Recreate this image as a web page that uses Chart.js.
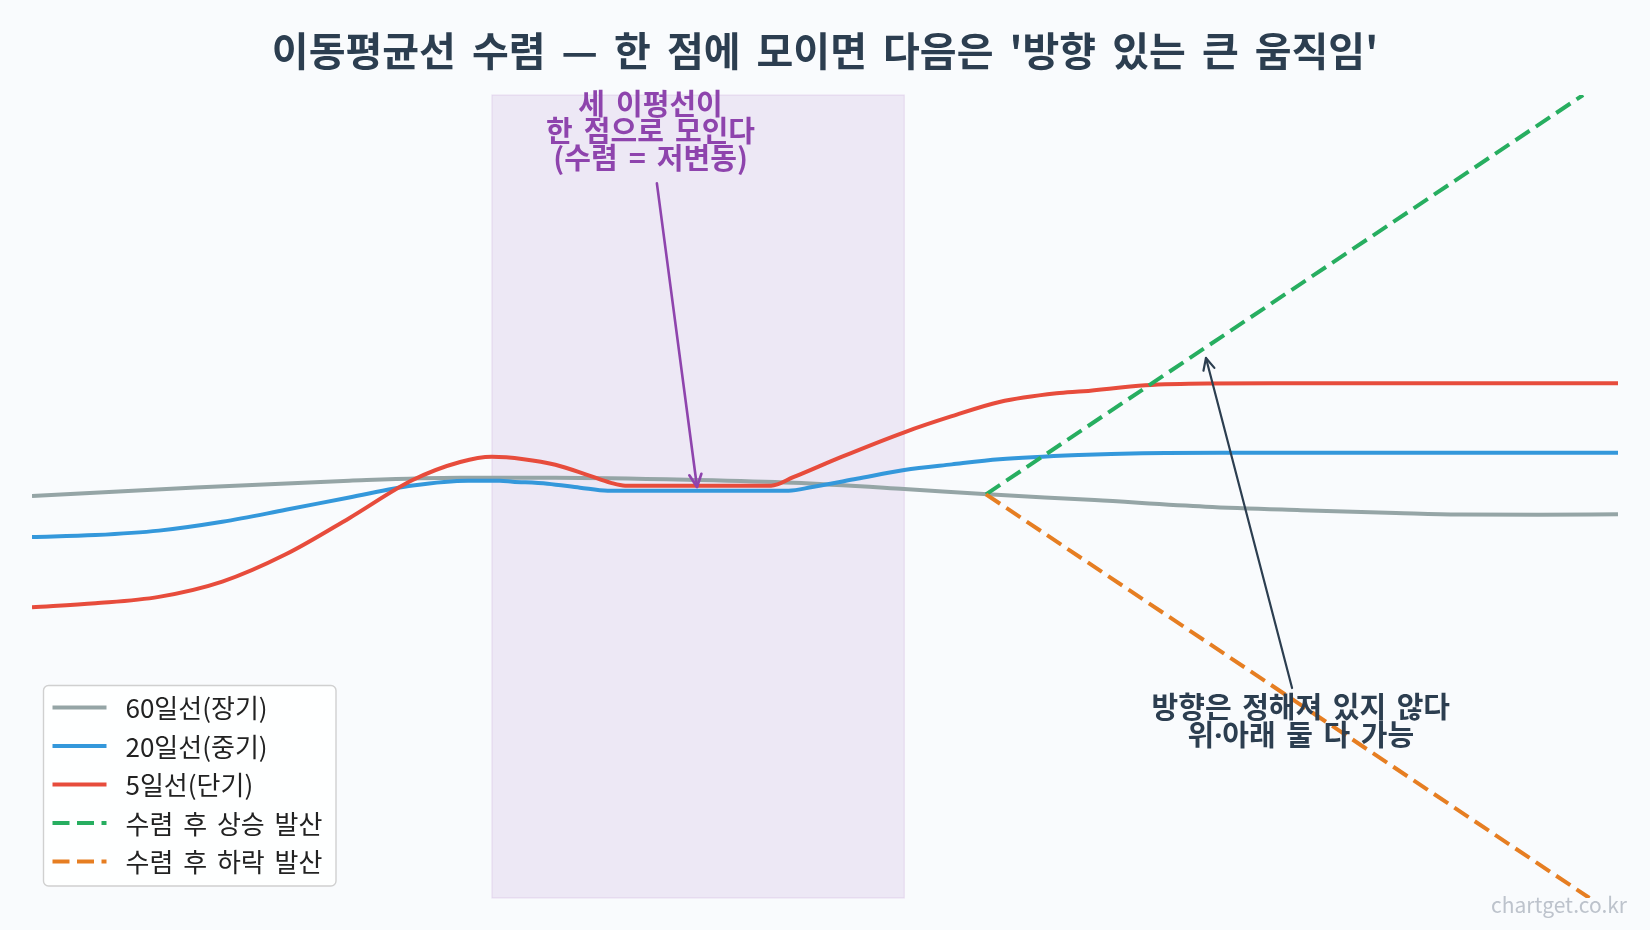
<!DOCTYPE html>
<html>
<head>
<meta charset="utf-8">
<script src="https://cdn.jsdelivr.net/npm/chart.js@4.4.1/dist/chart.umd.min.js"></script>
<style>
  html, body { margin: 0; padding: 0; background: #f9fbfd; }
  #wrap { width: 1650px; height: 930px; }
</style>
</head>
<body>
<div id="wrap"><canvas id="c" width="1650" height="930"></canvas></div>
<script>
// ---------------- data ----------------
const chartTitle = "이동평균선 수렴 — 한 점에 모이면 다음은 '방향 있는 큰 움직임'";
const seriesLabels = ["60일선(장기)", "20일선(중기)", "5일선(단기)", "수렴 후 상승 발산", "수렴 후 하락 발산"];
const seriesColors = ["#95a5a6", "#3498db", "#e74c3c", "#27ae60", "#e67e22"];

const ma60X = [0, 10, 20, 27, 33, 42, 48, 55, 60, 67, 74, 80, 86, 90, 95, 100];
const ma60Y = [50.06, 51.1, 51.97, 52.33, 52.33, 52.05, 51.7, 50.93, 50.3, 49.55, 48.73, 48.3, 47.95, 47.75, 47.72, 47.8];

const ma20X = [0, 4, 8, 12, 16, 20, 24, 27.5, 29.5, 30.3, 32.5, 34.55, 36.3, 47.7, 49.2, 52, 55, 58, 61, 66, 70, 75, 80, 100];
const ma20Y = [44.96, 45.2, 45.75, 46.85, 48.34, 49.88, 51.37, 51.97, 51.95, 51.85, 51.6, 51.1, 50.72, 50.72, 51.18, 52.2, 53.3, 54.0, 54.63, 55.17, 55.4, 55.45, 55.45, 55.45];

const ma5X = [0, 4, 8, 12, 16, 20, 24, 27, 29, 31, 33, 35, 36.5, 37.4, 46.6, 48, 51, 55, 58, 61, 64.6, 66.3, 70.2, 74.1, 80, 100];
const ma5Y = [36.2, 36.7, 37.5, 39.4, 42.8, 47.3, 52.05, 54.3, 54.95, 54.65, 53.95, 52.7, 51.7, 51.35, 51.35, 52.4, 54.9, 58.0, 60.0, 61.77, 62.85, 63.1, 63.85, 64.07, 64.1, 64.1];

const upX = [60.15, 97.8];
const upY = [50.27, 100];
const downX = [60.15, 98.2];
const downY = [50.27, 0];

const convergeZone = [29, 55];          // shaded convergence span (x units)
const xRange = [0, 100];
const yRange = [0, 100];

const noteConverge = ["세 이평선이", "한 점으로 모인다", "(수렴 = 저변동)"];
const noteConvergeAt = { x: 39, y: [98.9, 95.5, 92.1] };
const noteConvergeArrow = { from: [39.4, 89.0], to: [41.93, 51.18] };

const noteDirection = ["방향은 정해져 있지 않다", "위·아래 둘 다 가능"];
const noteDirectionAt = { x: 80, y: [23.5, 20.0] };
const noteDirectionArrow = { from: [79.45, 26.15], to: [74.02, 67.25] };

const watermark = "chartget.co.kr";
// -----------------------------------------------------------------

const KR = "'Noto Sans CJK KR', 'Noto Sans', sans-serif";
const KR2 = "'Noto Sans', 'Noto Sans CJK KR', sans-serif";

function pts(xs, ys) { return xs.map((x, i) => ({ x: x, y: ys[i] })); }

const datasets = [
  { label: seriesLabels[0], data: pts(ma60X, ma60Y), borderColor: seriesColors[0], borderWidth: 4, cubicInterpolationMode: 'monotone', order: 5 },
  { label: seriesLabels[1], data: pts(ma20X, ma20Y), borderColor: seriesColors[1], borderWidth: 4, cubicInterpolationMode: 'monotone', order: 4 },
  { label: seriesLabels[2], data: pts(ma5X, ma5Y), borderColor: seriesColors[2], borderWidth: 4, cubicInterpolationMode: 'monotone', order: 3 },
  { label: seriesLabels[3], data: pts(upX, upY), borderColor: seriesColors[3], borderWidth: 4, borderDash: [17, 7.5], order: 2 },
  { label: seriesLabels[4], data: pts(downX, downY), borderColor: seriesColors[4], borderWidth: 4, borderDash: [17, 7.5], order: 1 }
];
datasets.forEach(d => { d.pointRadius = 0; d.fill = false; d.borderCapStyle = 'butt'; d.borderJoinStyle = 'round'; });

function arrow(ctx, x1, y1, x2, y2, color, width, headLen, headAng) {
  ctx.save();
  ctx.strokeStyle = color; ctx.lineWidth = width; ctx.lineCap = 'round'; ctx.lineJoin = 'round';
  ctx.beginPath(); ctx.moveTo(x1, y1); ctx.lineTo(x2, y2); ctx.stroke();
  const a = Math.atan2(y1 - y2, x1 - x2);
  ctx.beginPath();
  ctx.moveTo(x2 + headLen * Math.cos(a + headAng), y2 + headLen * Math.sin(a + headAng));
  ctx.lineTo(x2, y2);
  ctx.lineTo(x2 + headLen * Math.cos(a - headAng), y2 + headLen * Math.sin(a - headAng));
  ctx.stroke();
  ctx.restore();
}

function setWordSpacing(ctx, v) { if ('wordSpacing' in ctx) ctx.wordSpacing = v; }

const overlay = {
  id: 'overlay',
  beforeDraw(chart) {
    const ctx = chart.ctx;
    ctx.save();
    ctx.fillStyle = '#f9fbfd';
    ctx.fillRect(0, 0, chart.width, chart.height);
    ctx.restore();
    // wider word gaps for the title drawn by Chart.js right after this hook
    setWordSpacing(ctx, '7px');
  },
  beforeDatasetsDraw(chart) {
    const ctx = chart.ctx, a = chart.chartArea, xs = chart.scales.x;
    setWordSpacing(ctx, '0px');
    const x1 = xs.getPixelForValue(convergeZone[0]), x2 = xs.getPixelForValue(convergeZone[1]);
    ctx.save();
    ctx.fillStyle = 'rgba(142,68,173,0.10)';
    ctx.fillRect(x1, a.top, x2 - x1, a.bottom - a.top);
    ctx.strokeStyle = 'rgba(142,68,173,0.12)';
    ctx.lineWidth = 1.2;
    ctx.strokeRect(x1, a.top, x2 - x1, a.bottom - a.top);
    ctx.restore();
  },
  afterDatasetsDraw(chart) {
    const ctx = chart.ctx, xs = chart.scales.x, ys = chart.scales.y;
    const px = v => xs.getPixelForValue(v), py = v => ys.getPixelForValue(v);
    // convergence note
    arrow(ctx, px(noteConvergeArrow.from[0]), py(noteConvergeArrow.from[1]),
          px(noteConvergeArrow.to[0]), py(noteConvergeArrow.to[1]), '#8e44ad', 2.6, 14, 0.45);
    ctx.save();
    ctx.font = "bold 29px " + KR;
    setWordSpacing(ctx, '4.5px');
    ctx.fillStyle = '#8e44ad';
    ctx.textAlign = 'center'; ctx.textBaseline = 'middle';
    noteConverge.forEach((t, i) => ctx.fillText(t, px(noteConvergeAt.x), py(noteConvergeAt.y[i])));
    ctx.restore();
    // direction note
    arrow(ctx, px(noteDirectionArrow.from[0]), py(noteDirectionArrow.from[1]),
          px(noteDirectionArrow.to[0]), py(noteDirectionArrow.to[1]), '#2c3e50', 2.2, 13, 0.45);
    ctx.save();
    ctx.font = "bold 29px " + KR2;
    setWordSpacing(ctx, '3px');
    ctx.fillStyle = '#2c3e50';
    ctx.textAlign = 'center'; ctx.textBaseline = 'middle';
    noteDirection.forEach((t, i) => ctx.fillText(t, px(noteDirectionAt.x), py(noteDirectionAt.y[i])));
    ctx.restore();
    setWordSpacing(ctx, '0px');
  },
  afterDraw(chart) {
    const ctx = chart.ctx, a = chart.chartArea;
    // legend box (lower left inside plot)
    const bx = a.left + 11.5, bw = 292.5, bh = 200.5, by = a.bottom - 12 - bh;
    ctx.save();
    ctx.beginPath();
    ctx.roundRect(bx, by, bw, bh, 5);
    ctx.fillStyle = 'rgba(255,255,255,0.85)';
    ctx.fill();
    ctx.strokeStyle = '#d0d0d0';
    ctx.lineWidth = 1.4;
    ctx.stroke();
    ctx.font = "26px " + KR;
    setWordSpacing(ctx, '4px');
    ctx.textBaseline = 'middle';
    chart.data.datasets.forEach((d, i) => {
      const ry = by + 22 + i * 38.5;
      ctx.strokeStyle = d.borderColor;
      ctx.lineWidth = d.borderWidth;
      ctx.lineCap = 'butt';
      ctx.setLineDash(d.borderDash || []);
      ctx.beginPath(); ctx.moveTo(bx + 9, ry); ctx.lineTo(bx + 63, ry); ctx.stroke();
      ctx.setLineDash([]);
      ctx.fillStyle = '#222222';
      ctx.fillText(d.label, bx + 82, ry + 1);
    });
    setWordSpacing(ctx, '0px');
    // watermark
    ctx.font = "21px " + KR;
    ctx.fillStyle = '#bdc3cc';
    ctx.textAlign = 'right'; ctx.textBaseline = 'alphabetic';
    ctx.fillText(watermark, chart.width - 23, chart.height - 17);
    ctx.restore();
  }
};

new Chart(document.getElementById('c'), {
  type: 'line',
  data: { datasets: datasets },
  options: {
    responsive: false,
    animation: false,
    devicePixelRatio: 1,
    events: [],
    layout: { padding: { left: 32, right: 32, bottom: 32, top: 0 } },
    scales: {
      x: { type: 'linear', min: xRange[0], max: xRange[1], display: false },
      y: { type: 'linear', min: yRange[0], max: yRange[1], display: false }
    },
    plugins: {
      legend: { display: false },
      tooltip: { enabled: false },
      title: {
        display: true,
        text: chartTitle,
        color: '#2c3e50',
        font: { family: KR, size: 40, weight: 'bold', lineHeight: 1.2 },
        padding: { top: 27, bottom: 20 }
      }
    }
  },
  plugins: [overlay]
});
</script>
</body>
</html>
